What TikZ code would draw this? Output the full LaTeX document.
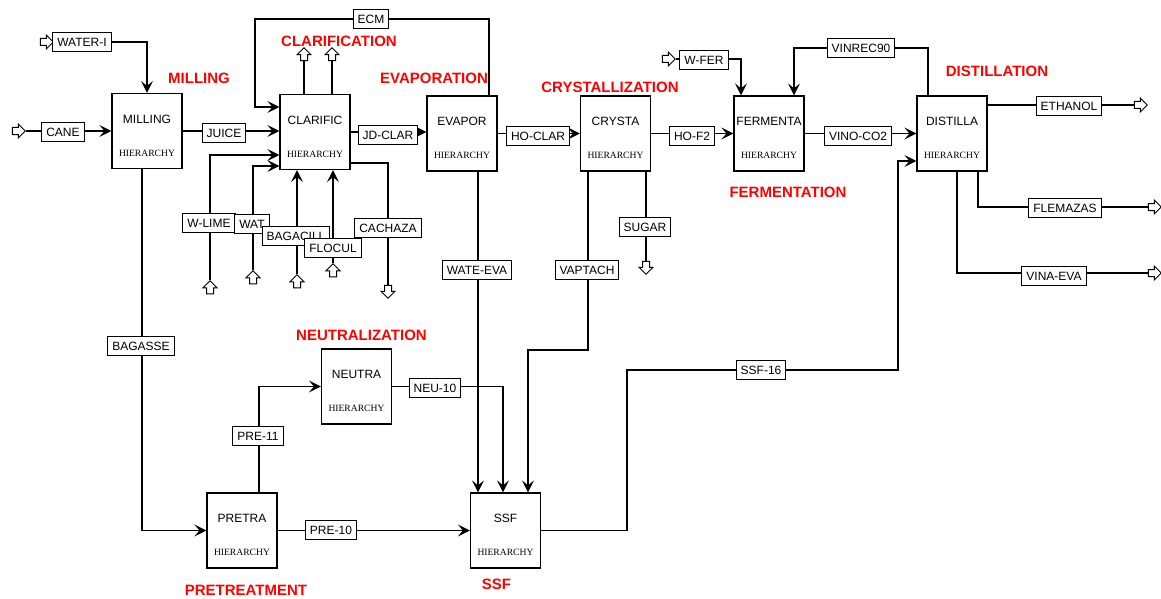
\documentclass[tikz,border=0pt]{standalone}
\usepackage{fontspec}
\setmainfont{Liberation Sans}
\newfontfamily\hierfont{Liberation Serif}
\usetikzlibrary{arrows.meta,shapes.arrows}

\begin{document}
\begin{tikzpicture}[x=1pt, y=-1pt,
    unit/.style={draw, line width=1.2pt, minimum width=70pt, minimum height=75pt, inner sep=0pt},
    uname/.style={font=\fontsize{12}{14}\selectfont},
    hier/.style={font=\hierfont\fontsize{9.6}{11}\selectfont},
    stream/.style={draw, fill=white, line width=1pt, inner xsep=4.5pt, inner ysep=0pt, minimum height=19pt, font=\fontsize{12}{14}\selectfont},
    flow/.style={line width=1.2pt, -{Stealth[length=12pt, width=12pt, inset=5pt]}},
    pipe/.style={line width=1.2pt},
    feed/.style={single arrow, draw, fill=white, line width=1pt, inner sep=3pt, single arrow head extend=3.5pt, minimum height=13pt},
    stage/.style={text=red, font=\bfseries\fontsize{15}{18}\selectfont}]

\useasboundingbox (0,0) rectangle (1161,599);

% unit blocks
\foreach \n/\x/\y/\lab in {mill/147/131/MILLING, clar/315/132/CLARIFIC, evap/462/133.5/EVAPOR, crys/615.5/133.5/CRYSTA, ferm/769/133.5/FERMENTA, dist/952/133.5/DISTILLA, neut/356.5/386.5/NEUTRA, pret/242/530.5/PRETRA, ssf/505.5/530.5/SSF}{
  \node[unit] (\n) at (\x,\y) {};
  \node[uname] (\n-t) at ([yshift=-26pt]\n.north) {\lab};
  \node[hier] (\n-h) at ([yshift=16pt]\n.south) {HIERARCHY};
}

% feeds and products
\node[feed] (inWI) at (45,42) {};
\node[feed] (inCA) at (17,131) {};
\node[feed] (inWF) at (667,59) {};
\node[feed, rotate=90] (inWL) at (210,289) {};
\node[feed, rotate=90] (inWA) at (253,279) {};
\node[feed, rotate=90] (inBG) at (297,283) {};
\node[feed, rotate=90] (inFL) at (333,272) {};
\node[feed, rotate=90] (outC1) at (304,56) {};
\node[feed, rotate=90] (outC2) at (332,56) {};
\node[feed, rotate=-90] (outCA) at (388,290) {};
\node[feed, rotate=-90] (outSU) at (646,266) {};
\node[feed] (outET) at (1139,105) {};
\node[feed] (outFL) at (1153,207) {};
\node[feed] (outVE) at (1153,273) {};

\coordinate (ecmL) at (255,19);
\coordinate (vapB) at (528,350);
\coordinate (recL) at (794,48);
\coordinate (ssfA) at (627,370);
\coordinate (ssfB) at (898,370);

% connectors
\draw[flow] (inWI.tip) -| (mill.north);
\draw[flow] (inCA.tip) -- (inCA.tip -| mill.west);
\draw[flow] (mill.east) -- (mill.east -| clar.west);
\draw[flow] ([xshift=27pt]evap.north) |- (ecmL) |- ([yshift=25pt]clar.west);
\draw[pipe] ([xshift=-11pt]clar.north) -- (outC1.tail);
\draw[pipe] ([xshift=17pt]clar.north) -- (outC2.tail);
\draw[flow] (clar.east) -- (clar.east -| evap.west);
\draw[flow] (inWL.tip) |- ([yshift=-23pt]clar.west);
\draw[flow] (inWA.tip) |- ([yshift=-34pt]clar.west);
\draw[flow] (inBG.tip) -- (inBG.tip |- clar.south);
\draw[flow] (inFL.tip) -- (inFL.tip |- clar.south);
\draw[pipe] ([yshift=-31pt]clar.east) -| (outCA.tail);
\draw[flow] (evap.east) -- (evap.east -| crys.west);
\draw[flow] ([xshift=16pt]evap.south) -- ([xshift=16pt]evap.south |- ssf.north);
\draw[flow] ([xshift=-27.5pt]crys.south) |- (vapB) -- (vapB |- ssf.north);
\draw[pipe] ([xshift=30.5pt]crys.south) -- (outSU.tail);
\draw[flow] (crys.east) -- (crys.east -| ferm.west);
\draw[flow] (inWF.tip) -| ([xshift=-28pt]ferm.north);
\draw[flow] ([xshift=-24pt]dist.north) |- (recL) -- (recL |- ferm.north);
\draw[flow] (ferm.east) -- (ferm.east -| dist.west);
\draw[flow] (ssf.east) -| (ssfA) -- (ssfB) |- ([yshift=-27.5pt]dist.west);
\draw[pipe] ([yshift=28.5pt]dist.east) -- (outET.tail);
\draw[pipe] ([xshift=26pt]dist.south) |- (outFL.tail);
\draw[pipe] ([xshift=5pt]dist.south) |- (outVE.tail);
\draw[flow] ([xshift=-5pt]mill.south) |- (pret.west);
\draw[flow] ([xshift=17pt]pret.north) |- (neut.west);
\draw[flow] (neut.east) -| ([xshift=-2.5pt]ssf.north);
\draw[flow] (pret.east) -- (ssf.west);

% stream labels
\node[stream] (wi) at (82,42) {WATER-I};
\node[stream] (cane) at (63,132) {CANE};
\node[stream] (juice) at (224,133) {JUICE};
\node[stream] (ecm) at (371,19) {ECM};
\node[stream] (jd) at (388,135) {JD-CLAR};
\node[stream] (wlime) at (209,223) {W-LIME};
\node[stream] (wat) at (252,224) {WAT};
\node[stream] (bagc) at (296,236) {BAGACILL};
\node[stream] (flocul) at (333,248) {FLOCUL};
\node[stream] (cach) at (388,228) {CACHAZA};
\node[stream] (hoclar) at (538,136) {HO-CLAR};
\node[stream] (wate) at (477,270) {WATE-EVA};
\node[stream] (vap) at (587,270) {VAPTACH};
\node[stream] (sugar) at (645,227) {SUGAR};
\node[stream] (hof2) at (692,136) {HO-F2};
\node[stream] (wfer) at (704,60) {W-FER};
\node[stream] (vinrec) at (861,48) {VINREC90};
\node[stream] (vino) at (858,136) {VINO-CO2};
\node[stream] (ssf16) at (761,370) {SSF-16};
\node[stream] (eth) at (1069,106) {ETHANOL};
\node[stream] (flem) at (1065,208) {FLEMAZAS};
\node[stream] (vina) at (1054,276) {VINA-EVA};
\node[stream] (bagasse) at (141,346) {BAGASSE};
\node[stream] (pre11) at (258,436) {PRE-11};
\node[stream] (neu10) at (435,388) {NEU-10};
\node[stream] (pre10) at (331,530) {PRE-10};

% stage titles
\node[stage] (sMill) at (199,78) {MILLING};
\node[stage] (sClar) at (339,41) {CLARIFICATION};
\node[stage] (sEvap) at (434,78) {EVAPORATION};
\node[stage] (sCrys) at (610,87) {CRYSTALLIZATION};
\node[stage] (sFerm) at (788,192) {FERMENTATION};
\node[stage] (sDist) at (997,71) {DISTILLATION};
\node[stage] (sNeut) at (361.5,335) {NEUTRALIZATION};
\node[stage] (sPret) at (246,590) {PRETREATMENT};
\node[stage] (sSsf) at (496.5,584) {SSF};
\end{tikzpicture}
\end{document}
